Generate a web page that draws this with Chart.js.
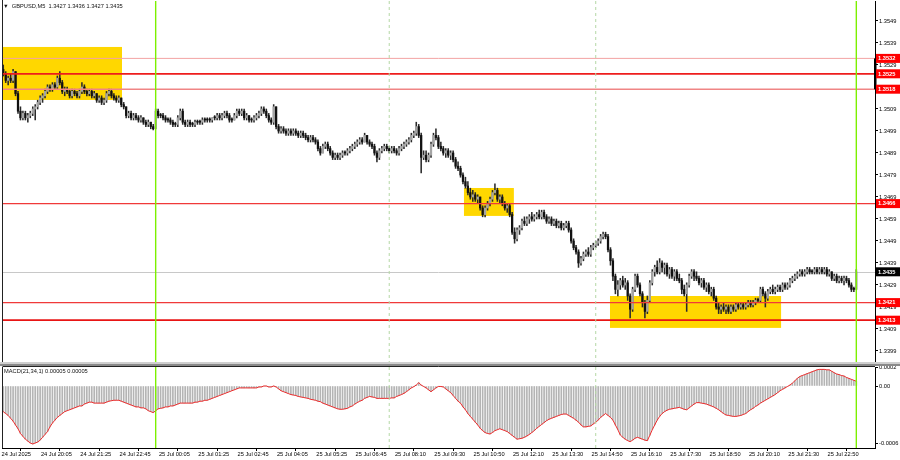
<!DOCTYPE html>
<html><head><meta charset="utf-8">
<script src="https://cdn.jsdelivr.net/npm/chart.js@4.4.1/dist/chart.umd.min.js"></script>
<style>
html,body{margin:0;padding:0;background:#fff;width:900px;height:460px;overflow:hidden;font-family:"Liberation Sans",Arial,sans-serif}
canvas{position:absolute;left:0}
#main{top:0}
#macd{top:362px}
.t{position:absolute;font-size:5.7px;line-height:6px;color:#111;white-space:pre}
</style></head><body>
<canvas id="main" width="900" height="363"></canvas>
<canvas id="macd" width="900" height="98"></canvas>
<div class="t" style="left:3px;top:3px">▼  GBPUSD,M5  1.3427 1.3436 1.3427 1.3435</div>
<div class="t" style="left:4px;top:368px">MACD(21,34,1) 0.00005 0.00005</div>
<script>
// ---------------- data ----------------
const symbolTitle = 'GBPUSD,M5';
const OPEN = [1.3527,1.3527,1.3525,1.3522,1.3523,1.3522,1.3526,1.3516,1.3508,1.3505,
1.3507,1.3505,1.3506,1.3507,1.3509,1.3510,1.3512,1.3514,1.3515,1.3517,
1.3519,1.3518,1.3520,1.3519,1.3523,1.3521,1.3517,1.3518,1.3517,1.3515,
1.3517,1.3516,1.3515,1.3517,1.3519,1.3517,1.3516,1.3517,1.3515,1.3516,
1.3513,1.3514,1.3512,1.3513,1.3516,1.3517,1.3515,1.3514,1.3513,1.3514,
1.3511,1.3510,1.3506,1.3507,1.3505,1.3506,1.3505,1.3504,1.3505,1.3503,
1.3502,1.3503,1.3501,1.3500,1.3508,1.3506,1.3506,1.3505,1.3504,1.3504,
1.3503,1.3502,1.3502,1.3505,1.3508,1.3503,1.3502,1.3503,1.3502,1.3502,
1.3503,1.3503,1.3503,1.3504,1.3504,1.3504,1.3504,1.3505,1.3505,1.3506,
1.3505,1.3506,1.3507,1.3506,1.3504,1.3504,1.3506,1.3508,1.3507,1.3508,
1.3505,1.3506,1.3504,1.3504,1.3505,1.3506,1.3507,1.3509,1.3508,1.3506,
1.3504,1.3503,1.3510,1.3501,1.3499,1.3500,1.3499,1.3498,1.3499,1.3498,
1.3499,1.3498,1.3497,1.3498,1.3497,1.3496,1.3495,1.3496,1.3495,1.3494,
1.3491,1.3489,1.3492,1.3493,1.3491,1.3489,1.3487,1.3488,1.3487,1.3488,
1.3489,1.3489,1.3490,1.3491,1.3492,1.3493,1.3494,1.3495,1.3494,1.3497,
1.3494,1.3493,1.3492,1.3489,1.3487,1.3490,1.3491,1.3492,1.3491,1.3490,
1.3491,1.3490,1.3489,1.3491,1.3492,1.3493,1.3494,1.3495,1.3497,1.3498,
1.3501,1.3497,1.3487,1.3488,1.3486,1.3488,1.3493,1.3497,1.3496,1.3492,
1.3491,1.3489,1.3490,1.3488,1.3489,1.3486,1.3483,1.3482,1.3479,1.3476,
1.3474,1.3471,1.3469,1.3470,1.3468,1.3469,1.3464,1.3461,1.3464,1.3466,
1.3468,1.3471,1.3472,1.3468,1.3469,1.3466,1.3464,1.3465,1.3461,1.3453,
1.3450,1.3454,1.3455,1.3458,1.3457,1.3459,1.3460,1.3459,1.3460,1.3461,
1.3460,1.3462,1.3460,1.3458,1.3459,1.3457,1.3458,1.3456,1.3457,1.3455,
1.3456,1.3457,1.3454,1.3449,1.3446,1.3444,1.3439,1.3441,1.3443,1.3444,
1.3443,1.3446,1.3447,1.3448,1.3449,1.3451,1.3452,1.3451,1.3445,1.3440,
1.3433,1.3427,1.3429,1.3431,1.3429,1.3430,1.3424,1.3418,1.3427,1.3433,
1.3429,1.3425,1.3421,1.3417,1.3422,1.3430,1.3435,1.3437,1.3435,1.3439,
1.3437,1.3438,1.3434,1.3436,1.3433,1.3435,1.3432,1.3431,1.3427,1.3425,
1.3429,1.3433,1.3435,1.3433,1.3432,1.3430,1.3431,1.3428,1.3429,1.3426,
1.3427,1.3423,1.3419,1.3418,1.3419,1.3418,1.3419,1.3417,1.3419,1.3418,
1.3420,1.3419,1.3420,1.3419,1.3420,1.3421,1.3420,1.3421,1.3422,1.3422,
1.3427,1.3425,1.3423,1.3426,1.3427,1.3426,1.3427,1.3428,1.3427,1.3429,
1.3428,1.3429,1.3431,1.3432,1.3433,1.3434,1.3435,1.3434,1.3435,1.3436,
1.3435,1.3435,1.3436,1.3435,1.3436,1.3435,1.3436,1.3434,1.3435,1.3432,
1.3433,1.3431,1.3432,1.3431,1.3432,1.3431,1.3429,1.3427,1.3427];
const HIGH = [1.3528,1.3529,1.3526,1.3524,1.3525,1.3527,1.3526,1.3517,1.3510,1.3508,
1.3508,1.3507,1.3508,1.3510,1.3511,1.3513,1.3515,1.3516,1.3518,1.3520,
1.3520,1.3521,1.3521,1.3524,1.3526,1.3522,1.3519,1.3519,1.3518,1.3518,
1.3518,1.3517,1.3518,1.3521,1.3520,1.3518,1.3518,1.3518,1.3517,1.3516,
1.3515,1.3515,1.3514,1.3517,1.3518,1.3518,1.3516,1.3515,1.3515,1.3514,
1.3512,1.3510,1.3508,1.3508,1.3507,1.3507,1.3506,1.3506,1.3505,1.3504,
1.3504,1.3503,1.3502,1.3509,1.3509,1.3507,1.3507,1.3506,1.3505,1.3505,
1.3504,1.3503,1.3506,1.3509,1.3509,1.3504,1.3504,1.3504,1.3503,1.3504,
1.3504,1.3504,1.3505,1.3505,1.3505,1.3505,1.3505,1.3506,1.3507,1.3507,
1.3507,1.3508,1.3508,1.3507,1.3505,1.3507,1.3509,1.3509,1.3509,1.3509,
1.3507,1.3506,1.3505,1.3506,1.3507,1.3508,1.3510,1.3510,1.3509,1.3507,
1.3505,1.3511,1.3510,1.3502,1.3501,1.3501,1.3500,1.3500,1.3500,1.3500,
1.3500,1.3499,1.3499,1.3499,1.3498,1.3497,1.3497,1.3497,1.3496,1.3495,
1.3492,1.3493,1.3494,1.3494,1.3492,1.3490,1.3489,1.3489,1.3489,1.3490,
1.3490,1.3491,1.3492,1.3493,1.3494,1.3495,1.3496,1.3496,1.3498,1.3497,
1.3495,1.3494,1.3493,1.3490,1.3491,1.3492,1.3493,1.3493,1.3492,1.3492,
1.3492,1.3491,1.3492,1.3493,1.3494,1.3495,1.3496,1.3498,1.3499,1.3503,
1.3502,1.3498,1.3490,1.3490,1.3489,1.3494,1.3498,1.3500,1.3497,1.3494,
1.3492,1.3491,1.3491,1.3490,1.3490,1.3487,1.3485,1.3483,1.3480,1.3478,
1.3476,1.3473,1.3472,1.3471,1.3470,1.3469,1.3465,1.3465,1.3467,1.3469,
1.3472,1.3475,1.3473,1.3470,1.3470,1.3467,1.3466,1.3466,1.3462,1.3455,
1.3455,1.3456,1.3459,1.3460,1.3460,1.3461,1.3462,1.3461,1.3462,1.3463,
1.3463,1.3463,1.3461,1.3460,1.3460,1.3459,1.3459,1.3458,1.3458,1.3457,
1.3458,1.3458,1.3455,1.3450,1.3447,1.3445,1.3442,1.3444,1.3445,1.3446,
1.3447,1.3448,1.3449,1.3450,1.3452,1.3453,1.3453,1.3452,1.3446,1.3441,
1.3434,1.3431,1.3432,1.3433,1.3432,1.3431,1.3425,1.3428,1.3434,1.3434,
1.3430,1.3426,1.3422,1.3424,1.3431,1.3436,1.3438,1.3440,1.3441,1.3440,
1.3439,1.3439,1.3437,1.3437,1.3436,1.3436,1.3434,1.3432,1.3429,1.3430,
1.3434,1.3436,1.3436,1.3435,1.3433,1.3432,1.3432,1.3430,1.3430,1.3428,
1.3428,1.3424,1.3421,1.3420,1.3421,1.3420,1.3420,1.3420,1.3420,1.3421,
1.3421,1.3421,1.3421,1.3421,1.3422,1.3422,1.3422,1.3423,1.3423,1.3428,
1.3428,1.3426,1.3427,1.3428,1.3429,1.3428,1.3429,1.3429,1.3430,1.3430,
1.3430,1.3432,1.3433,1.3434,1.3435,1.3436,1.3436,1.3436,1.3437,1.3437,
1.3436,1.3437,1.3437,1.3437,1.3437,1.3437,1.3437,1.3436,1.3435,1.3434,
1.3434,1.3433,1.3433,1.3433,1.3433,1.3432,1.3430,1.3428,1.3436];
const LOW = [1.3525,1.3524,1.3521,1.3520,1.3521,1.3521,1.3515,1.3507,1.3504,1.3504,
1.3504,1.3503,1.3505,1.3506,1.3504,1.3509,1.3511,1.3512,1.3514,1.3516,
1.3517,1.3517,1.3518,1.3518,1.3520,1.3516,1.3515,1.3516,1.3514,1.3514,
1.3515,1.3514,1.3514,1.3516,1.3516,1.3515,1.3515,1.3514,1.3514,1.3512,
1.3512,1.3511,1.3511,1.3512,1.3515,1.3514,1.3513,1.3512,1.3512,1.3510,
1.3509,1.3505,1.3505,1.3504,1.3504,1.3504,1.3503,1.3503,1.3502,1.3501,
1.3501,1.3500,1.34995,1.3500,1.3505,1.3505,1.3504,1.3503,1.3503,1.3502,
1.3501,1.3501,1.3501,1.3504,1.3502,1.3501,1.3501,1.3501,1.3501,1.3501,
1.3502,1.3502,1.3502,1.3503,1.3503,1.3503,1.3503,1.3504,1.3504,1.3504,
1.3504,1.3505,1.3505,1.3503,1.3503,1.3504,1.3505,1.3506,1.3506,1.3504,
1.3504,1.3503,1.3503,1.3503,1.3504,1.3505,1.3506,1.3507,1.3505,1.3503,
1.3502,1.3502,1.3500,1.3498,1.3498,1.3498,1.3497,1.3497,1.3497,1.3497,
1.3497,1.3496,1.3496,1.3496,1.3495,1.3494,1.3494,1.3494,1.3493,1.3490,
1.3488,1.3489,1.3491,1.3490,1.3488,1.3486,1.3486,1.3486,1.3486,1.3487,
1.3488,1.3488,1.3489,1.3490,1.3491,1.3492,1.3493,1.3493,1.3494,1.3493,
1.3492,1.3491,1.3488,1.3485,1.3486,1.3489,1.3490,1.3490,1.3489,1.3489,
1.3489,1.3488,1.3488,1.3490,1.3491,1.3492,1.3493,1.3494,1.3496,1.3497,
1.3496,1.3480,1.3486,1.3485,1.3485,1.3487,1.3492,1.3495,1.3491,1.3490,
1.3488,1.3487,1.3487,1.3486,1.3485,1.3482,1.3481,1.3478,1.3475,1.3473,
1.3470,1.3468,1.3467,1.3467,1.3466,1.3463,1.3460,1.3460,1.3463,1.3465,
1.3467,1.3470,1.3467,1.3466,1.3465,1.3463,1.3462,1.3460,1.3452,1.3448,
1.3449,1.3452,1.3454,1.3456,1.3456,1.3457,1.3458,1.3458,1.3459,1.3459,
1.3459,1.3459,1.3457,1.3457,1.3456,1.3456,1.3455,1.3455,1.3454,1.3454,
1.3455,1.3453,1.3448,1.3445,1.3443,1.3437,1.3438,1.3440,1.3442,1.3442,
1.3442,1.3445,1.3446,1.3447,1.3448,1.3450,1.3450,1.3444,1.3438,1.3431,
1.3425,1.3424,1.3427,1.3428,1.3427,1.3422,1.3414,1.3417,1.3426,1.3428,
1.3424,1.3419,1.3414,1.3416,1.3421,1.3429,1.3433,1.3434,1.3434,1.3435,
1.3434,1.3433,1.3432,1.3432,1.3431,1.3431,1.3430,1.3425,1.3424,1.3417,
1.3428,1.3432,1.3431,1.3431,1.3429,1.3428,1.3427,1.3426,1.3425,1.3424,
1.3422,1.3418,1.3416,1.3416,1.3417,1.3416,1.3416,1.3416,1.3417,1.3417,
1.3418,1.3418,1.3418,1.3418,1.3419,1.3419,1.3419,1.3420,1.3421,1.3421,
1.3424,1.3419,1.3422,1.3425,1.3425,1.3425,1.3426,1.3426,1.3426,1.3427,
1.3427,1.3428,1.3430,1.3431,1.3432,1.3433,1.3433,1.3433,1.3434,1.3434,
1.3434,1.3434,1.3434,1.3434,1.3434,1.3434,1.3433,1.3433,1.3431,1.3431,
1.3430,1.3430,1.3430,1.3429,1.3430,1.3428,1.3426,1.3426,1.3427];
const CLOSE = [1.3527,1.3525,1.3522,1.3523,1.3522,1.3526,1.3516,1.3508,1.3505,1.3507,
1.3505,1.3506,1.3507,1.3509,1.3510,1.3512,1.3514,1.3515,1.3517,1.3519,
1.3518,1.3520,1.3519,1.3523,1.3521,1.3517,1.3518,1.3517,1.3515,1.3517,
1.3516,1.3515,1.3517,1.3519,1.3517,1.3516,1.3517,1.3515,1.3516,1.3513,
1.3514,1.3512,1.3513,1.3516,1.3517,1.3515,1.3514,1.3513,1.3514,1.3511,
1.3510,1.3506,1.3507,1.3505,1.3506,1.3505,1.3504,1.3505,1.3503,1.3502,
1.3503,1.3501,1.3500,1.3508,1.3506,1.3506,1.3505,1.3504,1.3504,1.3503,
1.3502,1.3502,1.3505,1.3508,1.3503,1.3502,1.3503,1.3502,1.3502,1.3503,
1.3503,1.3503,1.3504,1.3504,1.3504,1.3504,1.3505,1.3505,1.3506,1.3505,
1.3506,1.3507,1.3506,1.3504,1.3504,1.3506,1.3508,1.3507,1.3508,1.3505,
1.3506,1.3504,1.3504,1.3505,1.3506,1.3507,1.3509,1.3508,1.3506,1.3504,
1.3503,1.3510,1.3501,1.3499,1.3500,1.3499,1.3498,1.3499,1.3498,1.3499,
1.3498,1.3497,1.3498,1.3497,1.3496,1.3495,1.3496,1.3495,1.3494,1.3491,
1.3489,1.3492,1.3493,1.3491,1.3489,1.3487,1.3488,1.3487,1.3488,1.3489,
1.3489,1.3490,1.3491,1.3492,1.3493,1.3494,1.3495,1.3494,1.3497,1.3494,
1.3493,1.3492,1.3489,1.3487,1.3490,1.3491,1.3492,1.3491,1.3490,1.3491,
1.3490,1.3489,1.3491,1.3492,1.3493,1.3494,1.3495,1.3497,1.3498,1.3501,
1.3497,1.3487,1.3488,1.3486,1.3488,1.3493,1.3497,1.3496,1.3492,1.3491,
1.3489,1.3490,1.3488,1.3489,1.3486,1.3483,1.3482,1.3479,1.3476,1.3474,
1.3471,1.3469,1.3470,1.3468,1.3469,1.3464,1.3461,1.3464,1.3466,1.3468,
1.3471,1.3472,1.3468,1.3469,1.3466,1.3464,1.3465,1.3461,1.3453,1.3450,
1.3454,1.3455,1.3458,1.3457,1.3459,1.3460,1.3459,1.3460,1.3461,1.3460,
1.3462,1.3460,1.3458,1.3459,1.3457,1.3458,1.3456,1.3457,1.3455,1.3456,
1.3457,1.3454,1.3449,1.3446,1.3444,1.3439,1.3441,1.3443,1.3444,1.3443,
1.3446,1.3447,1.3448,1.3449,1.3451,1.3452,1.3451,1.3445,1.3440,1.3433,
1.3427,1.3429,1.3431,1.3429,1.3430,1.3424,1.3418,1.3427,1.3433,1.3429,
1.3425,1.3421,1.3417,1.3422,1.3430,1.3435,1.3437,1.3435,1.3439,1.3437,
1.3438,1.3434,1.3436,1.3433,1.3435,1.3432,1.3431,1.3427,1.3425,1.3429,
1.3433,1.3435,1.3433,1.3432,1.3430,1.3431,1.3428,1.3429,1.3426,1.3427,
1.3423,1.3419,1.3418,1.3419,1.3418,1.3419,1.3417,1.3419,1.3418,1.3420,
1.3419,1.3420,1.3419,1.3420,1.3421,1.3420,1.3421,1.3422,1.3422,1.3427,
1.3425,1.3423,1.3426,1.3427,1.3426,1.3427,1.3428,1.3427,1.3429,1.3428,
1.3429,1.3431,1.3432,1.3433,1.3434,1.3435,1.3434,1.3435,1.3436,1.3435,
1.3435,1.3436,1.3435,1.3436,1.3435,1.3436,1.3434,1.3435,1.3432,1.3433,
1.3431,1.3432,1.3431,1.3432,1.3431,1.3429,1.3427,1.3427,1.3435];
const MACD = [-0.00026,-0.00027,-0.00029,-0.00031,-0.00034,-0.00037,-0.00041,-0.00045,-0.0005,-0.00053,
-0.00056,-0.00058,-0.0006,-0.00061,-0.0006,-0.00059,-0.00057,-0.00054,-0.00051,-0.00048,
-0.00043,-0.00039,-0.00036,-0.00033,-0.00031,-0.00029,-0.00027,-0.00026,-0.00025,-0.00024,
-0.00023,-0.00022,-0.00021,-0.00021,-0.00019,-0.00018,-0.00017,-0.00017,-0.00018,-0.00018,
-0.00018,-0.00018,-0.00018,-0.00017,-0.00016,-0.000155,-0.00015,-0.00015,-0.00015,-0.00016,
-0.00017,-0.00018,-0.00019,-0.0002,-0.00021,-0.00022,-0.00022,-0.00023,-0.00023,-0.00024,
-0.00026,-0.00027,-0.00028,-0.00026,-0.00024,-0.000235,-0.00023,-0.00022,-0.00022,-0.00021,
-0.00021,-0.0002,-0.00019,-0.00018,-0.00018,-0.00018,-0.00018,-0.00018,-0.00018,-0.00017,
-0.00017,-0.00016,-0.00016,-0.00015,-0.00015,-0.00014,-0.00013,-0.00012,-0.00011,-0.0001,
-0.00009,-0.00008,-0.00007,-0.00006,-0.00005,-0.00004,-0.00003,-0.00002,-0.00002,-0.00002,
-0.00002,-0.00002,-0.00002,-0.00002,-0.00002,-0.00001,-0.00001,0,0,-0.00001,
-0.00001,0,-0.00001,-0.00003,-0.00005,-0.00006,-0.00007,-0.00008,-0.00009,-0.000095,
-0.0001,-0.00011,-0.000115,-0.00012,-0.000125,-0.00013,-0.00014,-0.000145,-0.00015,-0.00016,
-0.000165,-0.00018,-0.00019,-0.0002,-0.00021,-0.00022,-0.00023,-0.00024,-0.000245,-0.000245,
-0.00024,-0.000235,-0.00022,-0.00021,-0.00019,-0.000175,-0.00016,-0.00015,-0.00013,-0.00012,
-0.00011,-0.000115,-0.00012,-0.00013,-0.00013,-0.00013,-0.00013,-0.00013,-0.00013,-0.000125,
-0.000125,-0.00011,-0.0001,-0.00009,-0.000077,-0.00006,-0.00004,-0.00002,-0.000007,0.00001,
0.000035,0.00001,-0.000005,-0.00002,-0.00004,-0.00006,-0.00004,-0.00002,-0.000005,-0.000005,
-0.00001,-0.00003,-0.00005,-0.00007,-0.0001,-0.00013,-0.00016,-0.00018,-0.00022,-0.00025,
-0.00029,-0.00032,-0.00035,-0.00038,-0.00041,-0.000445,-0.00047,-0.00049,-0.0005,-0.000505,
-0.00049,-0.00047,-0.00046,-0.00045,-0.00046,-0.00047,-0.00048,-0.0005,-0.00052,-0.00054,
-0.00056,-0.000555,-0.00055,-0.00054,-0.000526,-0.00051,-0.00049,-0.00047,-0.000445,-0.000425,
-0.000405,-0.000385,-0.000365,-0.00035,-0.00034,-0.00033,-0.00032,-0.00031,-0.0003,-0.000295,
-0.000295,-0.00031,-0.000325,-0.00034,-0.00036,-0.00038,-0.00041,-0.00043,-0.00043,-0.000425,
-0.00042,-0.0004,-0.00038,-0.00036,-0.00033,-0.00031,-0.00029,-0.00031,-0.00033,-0.00036,
-0.00041,-0.00046,-0.000516,-0.00054,-0.00056,-0.000575,-0.000586,-0.00057,-0.00055,-0.00054,
-0.00055,-0.00056,-0.00057,-0.000575,-0.00052,-0.00046,-0.00041,-0.00036,-0.00032,-0.00029,
-0.00027,-0.000255,-0.000245,-0.00024,-0.000235,-0.00023,-0.000225,-0.000235,-0.000245,-0.00025,
-0.00023,-0.00021,-0.00019,-0.000175,-0.000175,-0.00018,-0.000185,-0.00019,-0.0002,-0.00021,
-0.00022,-0.000235,-0.00025,-0.00027,-0.00029,-0.000305,-0.00031,-0.000315,-0.00032,-0.00032,
-0.000315,-0.00031,-0.0003,-0.00029,-0.00027,-0.00025,-0.000235,-0.000215,-0.0002,-0.00018,
-0.000165,-0.00015,-0.000135,-0.00012,-0.000105,-0.00009,-0.00007,-0.00005,-0.000035,-0.00002,
-0.000005,0.00001,0.00003,0.000055,0.00008,0.0001,0.00011,0.00012,0.00013,0.00014,
0.00015,0.00016,0.00017,0.000175,0.000175,0.000175,0.00017,0.00017,0.000155,0.00014,
0.000126,0.00012,0.00011,0.000105,0.00009,0.00008,0.00007,0.00006,0.00005];
const SIGNAL = MACD; // MACD(21,34,1): signal SMA(1) equals the MACD main line

const priceTicks = [1.3549,1.3539,1.3529,1.3519,1.3509,1.3499,1.3489,1.3479,1.3469,1.3459,1.3449,1.3439,1.3429,1.3419,1.3409,1.3399];
const macdTicks = [0.0002,0,-0.0006];
const timeTickIdx = [0,16,32,48,64,80,96,112,128,144,160,176,192,208,224,240,256,272,288,304,320,336];
const timeTickText = ['24 Jul 2025','24 Jul 20:05','24 Jul 21:25','24 Jul 22:45','25 Jul 00:05','25 Jul 01:25','25 Jul 02:45','25 Jul 04:05','25 Jul 05:25','25 Jul 06:45','25 Jul 08:10','25 Jul 09:30','25 Jul 10:50','25 Jul 12:10','25 Jul 13:30','25 Jul 14:50','25 Jul 16:10','25 Jul 17:30','25 Jul 18:50','25 Jul 20:10','25 Jul 21:30','25 Jul 22:50'];

// levels (horizontal lines) and zones
const levels = [1.3532,1.3525,1.3518,1.3466,1.3421,1.3413];
const bidPrice = 1.3435;
const zoneFrom = [0.49,188.4,247.8];
const zoneTo   = [49.3,208.7,317.4];
const zoneHigh = [1.35372,1.34731,1.34240];
const zoneLow  = [1.35131,1.34604,1.34095];
const vLineIdx = [63,158,242,348];

// ---------------- styles ----------------
const levelColor = ['#f3a3a3','#ee1d1d','#f08585','#f03a3a','#f03a3a','#e81515'];
const levelWidth = [1,1.7,1.4,1.2,1.2,1.7];
const vLineStyle = [{c:'#7cf000',w:1.4,d:[]},{c:'#b5d8a5',w:1,d:[3,3]},{c:'#b5d8a5',w:1,d:[3,3]},{c:'#7cf000',w:1.4,d:[]}];
const FONT = 'Liberation Sans';
const FS = 5.7;
const xMin = 0.49, xMax = 355.6;

Chart.defaults.font.family = FONT;
Chart.defaults.animation = false;

const idx = OPEN.map((_, i) => i);
const wickData = idx.map(i => ({x: i, y: [LOW[i], HIGH[i]]}));
const bodyData = idx.map(i => ({x: i, y: [OPEN[i], CLOSE[i]]}));
const bodyColors = idx.map(i => CLOSE[i] > OPEN[i] ? '#a4a4a4' : '#111111');

function noPad(s){ s.paddingTop = 0; s.paddingBottom = 0; s.paddingLeft = 0; s.paddingRight = 0; }

const mainDeco = {
  id: 'mainDeco',
  beforeDatasetsDraw(ch) {
    const {ctx, chartArea: a, scales: {x, y}} = ch;
    ctx.save();
    ctx.beginPath(); ctx.rect(a.left, a.top, a.right - a.left, a.bottom - a.top); ctx.clip();
    ctx.fillStyle = '#ffd700';
    zoneFrom.forEach((f, k) => {
      const x1 = x.getPixelForValue(f), x2 = x.getPixelForValue(zoneTo[k]);
      const y1 = y.getPixelForValue(zoneHigh[k]), y2 = y.getPixelForValue(zoneLow[k]);
      ctx.fillRect(x1, y1, x2 - x1, y2 - y1);
    });
    const yb = Math.round(y.getPixelForValue(bidPrice)) + 0.5;
    ctx.strokeStyle = '#c8c8c8'; ctx.lineWidth = 1;
    ctx.beginPath(); ctx.moveTo(a.left, yb); ctx.lineTo(a.right, yb); ctx.stroke();
    ctx.restore();
  },
  afterDatasetsDraw(ch) {
    const {ctx, chartArea: a, scales: {x, y}} = ch;
    ctx.save();
    ctx.beginPath(); ctx.rect(a.left, a.top, a.right - a.left, a.bottom - a.top); ctx.clip();
    levels.forEach((l, k) => {
      const yy = y.getPixelForValue(l);
      ctx.strokeStyle = levelColor[k]; ctx.lineWidth = levelWidth[k];
      ctx.beginPath(); ctx.moveTo(a.left, yy); ctx.lineTo(a.right, yy); ctx.stroke();
    });
    vLineIdx.forEach((v, k) => {
      const xx = x.getPixelForValue(v);
      ctx.strokeStyle = vLineStyle[k].c; ctx.lineWidth = vLineStyle[k].w; ctx.setLineDash(vLineStyle[k].d);
      ctx.beginPath(); ctx.moveTo(xx, a.top); ctx.lineTo(xx, a.bottom); ctx.stroke();
    });
    ctx.restore();
  },
  afterDraw(ch) {
    const {ctx, chartArea: a, scales: {y}} = ch;
    ctx.save();
    ctx.strokeStyle = '#222'; ctx.lineWidth = 1;
    ctx.beginPath(); ctx.moveTo(a.left + 0.5, 0); ctx.lineTo(a.left + 0.5, a.bottom); ctx.stroke();
    ctx.fillStyle = '#000';
    const r1 = y.getPixelForValue(levels[0]), r2 = y.getPixelForValue(levels[2]);
    ctx.fillRect(a.right - 1, r1, 2.5, r2 - r1);
    ctx.font = 'bold ' + FS + 'px "' + FONT + '"';
    ctx.textBaseline = 'middle'; ctx.textAlign = 'left';
    const lab = (p, bg) => {
      const yy = y.getPixelForValue(p);
      ctx.fillStyle = bg; ctx.fillRect(a.right + 1, yy - 4.5, 24, 9);
      ctx.fillStyle = '#fff'; ctx.fillText(p.toFixed(4), a.right + 3, yy + 0.3);
    };
    levels.forEach(l => lab(l, '#ff0000'));
    lab(bidPrice, '#000000');
    ctx.restore();
  }
};

new Chart(document.getElementById('main'), {
  type: 'bar',
  data: {
    datasets: [
      {label: 'wick', data: wickData, backgroundColor: '#2a2a2a', barThickness: 0.9, grouped: false, order: 2},
      {label: 'body', data: bodyData, backgroundColor: bodyColors, barThickness: 1.6, minBarLength: 1, grouped: false, order: 1}
    ]
  },
  options: {
    responsive: false, devicePixelRatio: 1, events: [],
    layout: {padding: {left: 2, right: 0, top: 1, bottom: 1}},
    plugins: {legend: {display: false}, tooltip: {enabled: false}},
    scales: {
      x: {type: 'linear', min: xMin, max: xMax, offset: false, display: false},
      y: {
        position: 'right', min: 1.3394, max: 1.355809,
        afterBuildTicks: s => { s.ticks = priceTicks.map(v => ({value: v})); },
        afterFit: s => { s.width = 25; noPad(s); },
        ticks: {font: {size: FS, family: FONT}, color: '#000', padding: 1, callback: v => Number(v).toFixed(4)},
        grid: {drawOnChartArea: false, drawTicks: true, tickLength: 3, color: '#000'},
        border: {display: true, color: '#000', width: 1}
      }
    }
  },
  plugins: [mainDeco]
});

const macdDeco = {
  id: 'macdDeco',
  afterDatasetsDraw(ch) {
    const {ctx, chartArea: a, scales: {x}} = ch;
    ctx.save();
    ctx.beginPath(); ctx.rect(a.left, a.top, a.right - a.left, a.bottom - a.top); ctx.clip();
    vLineIdx.forEach((v, k) => {
      const xx = x.getPixelForValue(v);
      ctx.strokeStyle = vLineStyle[k].c; ctx.lineWidth = vLineStyle[k].w; ctx.setLineDash(vLineStyle[k].d);
      ctx.beginPath(); ctx.moveTo(xx, a.top); ctx.lineTo(xx, a.bottom); ctx.stroke();
    });
    ctx.restore();
  },
  afterDraw(ch) {
    const {ctx, chartArea: a} = ch;
    ctx.save();
    ctx.fillStyle = '#cfcfcf'; ctx.fillRect(0, 0, 900, 2);
    ctx.fillStyle = '#8a8a8a'; ctx.fillRect(0, 2, 900, 2);
    ctx.strokeStyle = '#222'; ctx.lineWidth = 1;
    ctx.beginPath();
    ctx.moveTo(a.left + 0.5, a.top - 0.5); ctx.lineTo(a.right, a.top - 0.5);
    ctx.moveTo(a.left + 0.5, a.top); ctx.lineTo(a.left + 0.5, a.bottom);
    ctx.stroke();
    ctx.restore();
  }
};

const macdData = idx.map(i => ({x: i, y: MACD[i]}));
const signalData = idx.map(i => ({x: i, y: SIGNAL[i]}));

new Chart(document.getElementById('macd'), {
  type: 'bar',
  data: {
    datasets: [
      {type: 'bar', label: 'MACD', data: macdData, backgroundColor: '#b4b4b4', barThickness: 1, grouped: false, order: 2},
      {type: 'line', label: 'Signal', data: signalData, borderColor: '#ee2a2a', borderWidth: 1, pointRadius: 0, tension: 0, order: 1}
    ]
  },
  options: {
    responsive: false, devicePixelRatio: 1, events: [],
    layout: {padding: {left: 2, right: 0, top: 5, bottom: 0}},
    plugins: {legend: {display: false}, tooltip: {enabled: false}},
    scales: {
      x: {
        type: 'linear', min: xMin, max: xMax, offset: false,
        afterBuildTicks: s => { s.ticks = timeTickIdx.map(v => ({value: v})); },
        afterFit: s => { s.height = 12; noPad(s); },
        ticks: {font: {size: FS, family: FONT}, color: '#000', align: 'start', labelOffset: 0.8, padding: 0,
                autoSkip: false, maxRotation: 0, minRotation: 0, callback: (v, i) => timeTickText[i]},
        grid: {drawOnChartArea: false, drawTicks: true, tickLength: 3, color: '#000'},
        border: {display: true, color: '#000', width: 1}
      },
      y: {
        position: 'right', min: -0.0006526, max: 0.0002,
        afterBuildTicks: s => { s.ticks = macdTicks.map(v => ({value: v})); },
        afterFit: s => { s.width = 25; noPad(s); },
        ticks: {font: {size: FS, family: FONT}, color: '#000', padding: 1,
                callback: v => v === 0 ? '0.00' : Number(v).toFixed(4)},
        grid: {drawOnChartArea: false, drawTicks: true, tickLength: 3, color: '#000'},
        border: {display: true, color: '#000', width: 1}
      }
    }
  },
  plugins: [macdDeco]
});
</script>
</body></html>
